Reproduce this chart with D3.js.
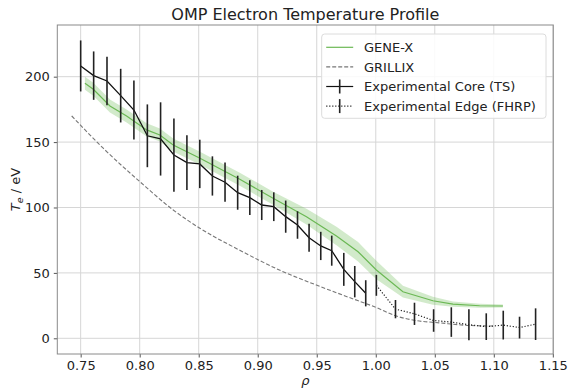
<!DOCTYPE html>
<html>
<head>
<meta charset="utf-8">
<script src="https://cdn.jsdelivr.net/npm/d3@7"></script>
<style>
  body { margin: 0; background: #fff; }
  svg text { font-family: "DejaVu Sans", sans-serif; fill: #222; }
</style>
</head>
<body>
<div class="chart"></div>
<script>
// experimental core (Thomson scattering)
var coreRho = [0.7500, 0.7610, 0.7723, 0.7839, 0.7951, 0.8065, 0.8177, 0.8290, 0.8400, 0.8509, 0.8616, 0.8723,
               0.8830, 0.8933, 0.9034, 0.9136, 0.9237, 0.9337, 0.9435, 0.9534, 0.9627, 0.9729, 0.9822, 0.9915];
var coreTe = [208.2, 200.8, 196.7, 185.5, 174.5, 154.8, 152.4, 140.1, 134.3, 133.3, 124.1, 119.3,
              111.3, 107.5, 101.9, 100.6, 93.0, 86.6, 76.9, 70.6, 67.0, 52.7, 43.3, 34.4];
var coreErr = [19.5, 18.5, 18.5, 20.5, 22.5, 24, 28, 28, 21, 18.5, 15, 15,
               13, 13.3, 11.5, 11, 12.3, 10.5, 10.7, 10.8, 11.5, 12.6, 12, 10];

// experimental edge (FHRP)
var edgeRho = [1.0005, 1.0167, 1.0328, 1.0490, 1.0640, 1.0789, 1.0936, 1.1080, 1.1218, 1.1354];
var edgeTe = [40.5, 22.3, 18.7, 13.6, 12.4, 10.4, 8.9, 10.1, 8.2, 10.8];
var edgeErr = [8, 7, 8.5, 8.6, 11.3, 11.8, 10.2, 11, 8.3, 12.1];

// GENE-X with uncertainty band
var genexRho = [0.7536, 0.7607, 0.7748, 0.7889, 0.8059, 0.8171, 0.8284, 0.8511, 0.8848, 0.9130, 0.9413,
                0.9667, 0.9850, 1.0005, 1.0230, 1.0484, 1.0654, 1.0880, 1.1077];
var genexTe = [195, 190.4, 177.6, 170, 159.3, 155.4, 147.8, 137.6, 121.6, 107, 93,
               78.2, 66.2, 52.2, 35.6, 28.7, 26.2, 24.9, 24.7];
var genexBand = [5, 5, 5, 5, 5, 5, 5, 5, 5, 5, 6,
                 7, 7.5, 7, 4.5, 3, 2, 1.5, 1.2];

// GRILLIX
var grillixRho = [0.7424, 0.7691, 0.8002, 0.8284, 0.8510, 0.8848, 0.9215, 0.9497, 0.9751, 1.0005,
                  1.0175, 1.0344, 1.0541, 1.0795, 1.0990];
var grillixTe = [170, 145.3, 119.7, 98.1, 84.1, 67.3, 50.9, 40.7, 32.0, 23.5,
                 17.0, 13.5, 11.8, 9.8, 9.4];

var xTicks = [0.75, 0.80, 0.85, 0.90, 0.95, 1.00, 1.05, 1.10, 1.15];
var yTicks = [0, 50, 100, 150, 200];

var svgWidth = 569, svgHeight = 389;
var margin = { top: 25, right: 15.7, bottom: 35, left: 57.3 };
var width = svgWidth - margin.left - margin.right;
var height = svgHeight - margin.top - margin.bottom;

var svg = d3.select(".chart").append("svg")
  .attr("width", svgWidth)
  .attr("height", svgHeight);

var chart = svg.append("g")
  .attr("transform", `translate(${margin.left}, ${margin.top})`);

var x = d3.scaleLinear().domain([0.7302, 1.1504]).range([0, width]);
var y = d3.scaleLinear().domain([-12, 239.5]).range([height, 0]);

// grid
chart.append("g").selectAll("line").data(xTicks).enter().append("line")
  .attr("x1", d => x(d)).attr("x2", d => x(d))
  .attr("y1", 0).attr("y2", height)
  .attr("stroke", "#d6d6d6").attr("stroke-width", 1);
chart.append("g").selectAll("line").data(yTicks).enter().append("line")
  .attr("x1", 0).attr("x2", width)
  .attr("y1", d => y(d)).attr("y2", d => y(d))
  .attr("stroke", "#d6d6d6").attr("stroke-width", 1);

// axes
var xAxis = chart.append("g")
  .attr("transform", "translate(0," + height + ")")
  .call(d3.axisBottom(x).tickValues(xTicks).tickFormat(d3.format(".2f")).tickSize(3.5).tickPadding(3.5).tickSizeOuter(0));
var yAxis = chart.append("g")
  .call(d3.axisLeft(y).tickValues(yTicks).tickSize(3.5).tickPadding(4).tickSizeOuter(0));
[xAxis, yAxis].forEach(function(a) {
  a.selectAll("text").style("font-size", "13px").style("font-family", "DejaVu Sans, sans-serif").attr("fill", "#222");
  a.selectAll(".tick line").attr("stroke", "#555");
  a.select(".domain").remove();
});

// spines
chart.append("rect")
  .attr("x", 0).attr("y", 0).attr("width", width).attr("height", height)
  .attr("fill", "none").attr("stroke", "#8a8a8a").attr("stroke-width", 1);

// GENE-X band + line
var genex = genexRho.map((r, i) => ({ x: r, y: genexTe[i], e: genexBand[i] }));
chart.append("path")
  .datum(genex)
  .attr("fill", "#6bb854").attr("fill-opacity", 0.3)
  .attr("d", d3.area().x(d => x(d.x)).y0(d => y(d.y - d.e)).y1(d => y(d.y + d.e)));
chart.append("path")
  .datum(genex)
  .attr("fill", "none").attr("stroke", "#6bb854").attr("stroke-width", 1.2)
  .attr("d", d3.line().x(d => x(d.x)).y(d => y(d.y)));

// GRILLIX
chart.append("path")
  .datum(grillixRho.map((r, i) => ({ x: r, y: grillixTe[i] })))
  .attr("fill", "none").attr("stroke", "#777").attr("stroke-width", 1.1)
  .attr("stroke-dasharray", "4,2")
  .attr("d", d3.line().curve(d3.curveMonotoneX).x(d => x(d.x)).y(d => y(d.y)));

// experimental core
var core = coreRho.map((r, i) => ({ x: r, y: coreTe[i], e: coreErr[i] }));
chart.append("path")
  .datum(core)
  .attr("fill", "none").attr("stroke", "#111").attr("stroke-width", 1.3)
  .attr("d", d3.line().x(d => x(d.x)).y(d => y(d.y)));
chart.append("g").selectAll("line").data(core).enter().append("line")
  .attr("x1", d => x(d.x)).attr("x2", d => x(d.x))
  .attr("y1", d => y(d.y - d.e)).attr("y2", d => y(d.y + d.e))
  .attr("stroke", "#222").attr("stroke-width", 1.6);

// experimental edge
var edge = edgeRho.map((r, i) => ({ x: r, y: edgeTe[i], e: edgeErr[i] }));
chart.append("path")
  .datum(edge)
  .attr("fill", "none").attr("stroke", "#222").attr("stroke-width", 1.2)
  .attr("stroke-dasharray", "1.2,1.8")
  .attr("d", d3.line().x(d => x(d.x)).y(d => y(d.y)));
chart.append("g").selectAll("line").data(edge).enter().append("line")
  .attr("x1", d => x(d.x)).attr("x2", d => x(d.x))
  .attr("y1", d => y(d.y - d.e)).attr("y2", d => y(d.y + d.e))
  .attr("stroke", "#222").attr("stroke-width", 1.6);

// legend
var legend = svg.append("g").attr("transform", "translate(321.7, 34)");
legend.append("rect")
  .attr("width", 224.3).attr("height", 84.3).attr("rx", 3)
  .attr("fill", "#fff").attr("fill-opacity", 0.85)
  .attr("stroke", "#dcdcdc").attr("stroke-width", 1);
var items = [
  { label: "GENE-X", color: "#6bb854", dash: null, bar: false },
  { label: "GRILLIX", color: "#777", dash: "4,2", bar: false },
  { label: "Experimental Core (TS)", color: "#111", dash: null, bar: true },
  { label: "Experimental Edge (FHRP)", color: "#222", dash: "1.2,1.8", bar: true }
];
items.forEach(function(it, i) {
  var g = legend.append("g").attr("transform", `translate(0, ${13.3 + i * 19.6})`);
  g.append("line").attr("x1", 4.5).attr("x2", 31.5).attr("y1", 0).attr("y2", 0)
    .attr("stroke", it.color).attr("stroke-width", 1.2)
    .attr("stroke-dasharray", it.dash);
  if (it.bar) {
    g.append("line").attr("x1", 18).attr("x2", 18).attr("y1", -7).attr("y2", 7)
      .attr("stroke", "#222").attr("stroke-width", 1.6);
  }
  g.append("text").attr("x", 42.3).attr("y", 4.6)
    .style("font-size", "13px").text(it.label);
});

// title and labels
svg.append("text")
  .attr("x", margin.left + width / 2).attr("y", 20)
  .attr("text-anchor", "middle").style("font-size", "16px")
  .text("OMP Electron Temperature Profile");
svg.append("text")
  .attr("x", margin.left + width / 2).attr("y", 385)
  .attr("text-anchor", "middle").style("font-size", "13px").style("font-style", "italic")
  .text("ρ");
var yl = svg.append("text")
  .attr("transform", "translate(20, " + (margin.top + height / 2) + ") rotate(-90)")
  .attr("text-anchor", "middle").style("font-size", "13px");
yl.append("tspan").style("font-style", "italic").text("T");
yl.append("tspan").attr("dy", 3).style("font-size", "9.5px").style("font-style", "italic").text("e");
yl.append("tspan").attr("dy", -3).text(" / eV");
</script>
</body>
</html>
